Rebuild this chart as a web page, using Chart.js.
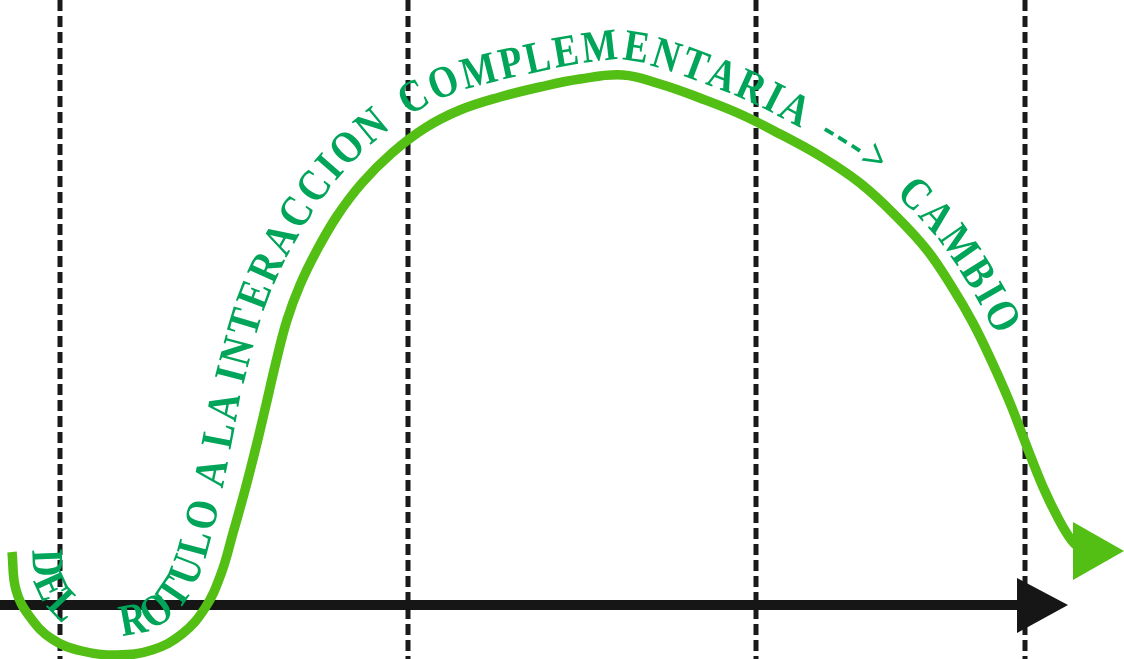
<!DOCTYPE html>
<html><head><meta charset="utf-8">
<script src="https://cdn.jsdelivr.net/npm/chart.js@4/dist/chart.umd.min.js"></script>
<style>html,body{margin:0;padding:0;background:#fff;overflow:hidden}#wrap{width:1124px;height:659px}</style>
</head><body><div id="wrap"><canvas id="c" width="1124" height="659"></canvas></div>
<script>
// ---- data (diagram units: x 0..1124, y 0..659 measured downward) ----
const curveX = [12,16,30,52,82,117,152,182,205,221,233,245,256,266,276,287,300,316,337,362,392,425,460,500,540,580,623,660,700,740,780,820,860,896,927,952,973,992,1010,1027,1043,1058,1072,1082];
const curveY = [552,590,617,639,651,655,650,634,608,574,533,490,447,405,362,320,285,252,216,183,153,128,110,97,87,79,75,84,98,114,134,156,183,216,250,287,323,362,403,447,487,518,541,550];
const dividerX = [60,408,756,1025];
const dividerY = [0,659];
const axisX = [0,1020];
const axisY = [605,605];
const axisHeadX = [1017,1068,1017];
const axisHeadY = [578,605,633];
const curveHeadX = [1073,1124,1073];
const curveHeadY = [522,551,580];
const pathWords = ['DEL','ROTULO','A','LA','INTERACCION','COMPLEMENTARIA','--->','CAMBIO'];

// ---- styles ----
const GREEN = '#53be14';
const TEXT_GREEN = '#00a55a';
const BLACK = '#161616';
const TEXT_FONT = 'bold 45px "Liberation Serif", "Times New Roman", serif';
const TEXT_XSCALE = 0.84;
const LETTER_SPACING = 3;
// [curve parameter (point index), distance of text baseline from curve]
const TEXT_OFFSETS = [[0,20],[10,20],[13,27],[16,24],[20,20],[24,15],[47,15]];
const TEXT_START = 0;
const WORD_GAPS = [57,12,9,8,18,17,25];

const curvePts = curveX.map((x,i)=>({x, y: curveY[i]}));
const datasets = [];
datasets.push({label:'curve', data: curvePts, borderColor: GREEN, borderWidth: 9.5, tension: 0.4,
  borderCapStyle:'butt', borderJoinStyle:'round', pointRadius:0, fill:false, order:0});
datasets.push({label:'axis', data: axisX.map((x,i)=>({x, y: axisY[i]})), borderColor: BLACK, borderWidth: 10,
  pointRadius:0, fill:false, order:1, borderCapStyle:'butt'});
dividerX.forEach((x)=>{
  datasets.push({label:'divider', data: dividerY.map(y=>({x, y})), borderColor: '#1a1a1a', borderWidth: 5,
    borderDash:[11,5], pointRadius:0, fill:false, order:2, borderCapStyle:'butt'});
});

function polyPlugin(){
  return {
    id:'heads',
    afterDatasetsDraw(chart){
      const {ctx, scales:{x, y}} = chart;
      const tri = (xs, ys, color) => {
        ctx.save(); ctx.beginPath();
        xs.forEach((v,i)=>{ const px=x.getPixelForValue(v), py=y.getPixelForValue(ys[i]); i?ctx.lineTo(px,py):ctx.moveTo(px,py); });
        ctx.closePath(); ctx.fillStyle=color; ctx.fill(); ctx.restore();
      };
      tri(axisHeadX, axisHeadY, BLACK);
      tri(curveHeadX, curveHeadY, GREEN);
    }
  };
}

function offsetAt(u){
  const T=TEXT_OFFSETS;
  if(u<=T[0][0]) return T[0][1];
  for(let i=1;i<T.length;i++){
    if(u<=T[i][0]){const f=(u-T[i-1][0])/(T[i][0]-T[i-1][0]); return T[i-1][1]+(T[i][1]-T[i-1][1])*f;}
  }
  return T[T.length-1][1];
}

const textPlugin = {
  id:'pathText',
  afterDatasetsDraw(chart){
    const ctx = chart.ctx;
    const pts = chart.getDatasetMeta(0).data;
    const bez=(p0,c1,c2,p1,t)=>{const u=1-t;return u*u*u*p0+3*u*u*t*c1+3*u*t*t*c2+t*t*t*p1;};
    const S=[], U=[];
    const N=40;
    for(let i=0;i<pts.length-1;i++){
      const a=pts[i], b=pts[i+1];
      const c1x=a.cp2x??a.x, c1y=a.cp2y??a.y, c2x=b.cp1x??b.x, c2y=b.cp1y??b.y;
      for(let k=0;k<N;k++){const t=k/N; S.push([bez(a.x,c1x,c2x,b.x,t), bez(a.y,c1y,c2y,b.y,t)]); U.push(i+t);}
    }
    S.push([pts[pts.length-1].x, pts[pts.length-1].y]); U.push(pts.length-1);
    const O=[];
    for(let i=0;i<S.length;i++){
      const p=S[Math.max(0,i-2)], q=S[Math.min(S.length-1,i+2)];
      let tx=q[0]-p[0], ty=q[1]-p[1]; const l=Math.hypot(tx,ty)||1; tx/=l; ty/=l;
      const off=offsetAt(U[i]);
      O.push([S[i][0]+ty*off, S[i][1]-tx*off]);
    }
    const L=[0];
    for(let i=1;i<O.length;i++) L.push(L[i-1]+Math.hypot(O[i][0]-O[i-1][0], O[i][1]-O[i-1][1]));
    const at=(s)=>{
      let i=1; while(i<L.length-1 && L[i]<s) i++;
      const f=(s-L[i-1])/((L[i]-L[i-1])||1);
      const px=O[i-1][0]+(O[i][0]-O[i-1][0])*f, py=O[i-1][1]+(O[i][1]-O[i-1][1])*f;
      const j0=Math.max(0,i-6), j1=Math.min(O.length-1,i+5);
      const ang=Math.atan2(O[j1][1]-O[j0][1], O[j1][0]-O[j0][0]);
      return [px,py,ang];
    };
    ctx.save();
    ctx.font=TEXT_FONT; ctx.fillStyle=TEXT_GREEN; ctx.textAlign='center'; ctx.textBaseline='alphabetic';
    let s=TEXT_START;
    pathWords.forEach((w,wi)=>{
      for(const ch of w){
        const cw=ctx.measureText(ch).width*TEXT_XSCALE;
        const [px,py,ang]=at(s+cw/2);
        ctx.save(); ctx.translate(px,py); ctx.rotate(ang); ctx.scale(TEXT_XSCALE,1); ctx.fillText(ch,0,0); ctx.restore();
        s+=cw+LETTER_SPACING;
      }
      if(wi<WORD_GAPS.length) s+=WORD_GAPS[wi];
    });
    ctx.restore();
  }
};

new Chart(document.getElementById('c'), {
  type:'line',
  data:{datasets},
  options:{
    responsive:false, animation:false,
    layout:{padding:0},
    scales:{
      x:{type:'linear', min:0, max:1124, display:false},
      y:{type:'linear', min:0, max:659, reverse:true, display:false}
    },
    plugins:{legend:{display:false}, tooltip:{enabled:false}},
    elements:{point:{radius:0}, line:{capBezierPoints:false}}
  },
  plugins:[polyPlugin(), textPlugin]
});
</script></body></html>
